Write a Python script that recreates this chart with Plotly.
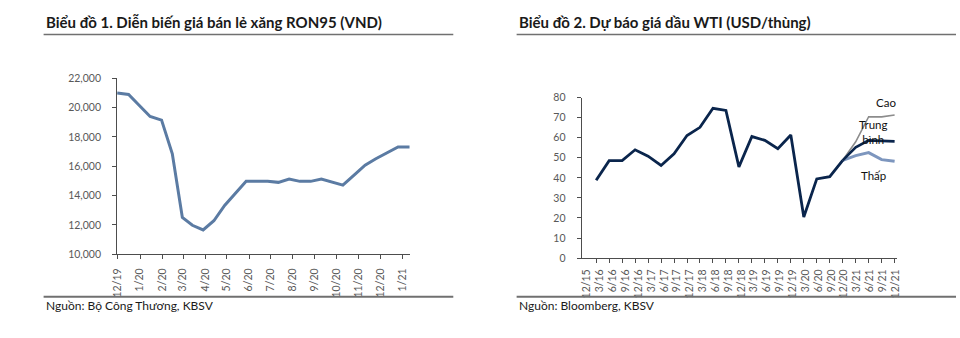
import plotly.graph_objects as go

# ---------------- Data: Chart 1 (RON95 retail price, VND) ----------------
ron95_dates = [
    "2019-11-30", "2019-12-16", "2019-12-31", "2020-01-15", "2020-01-31",
    "2020-02-15", "2020-02-29", "2020-03-14", "2020-03-29", "2020-04-13",
    "2020-04-28", "2020-05-13", "2020-05-28", "2020-06-12", "2020-06-27",
    "2020-07-12", "2020-07-27", "2020-08-11", "2020-08-26", "2020-09-10",
    "2020-09-25", "2020-10-10", "2020-10-26", "2020-11-10", "2020-11-25",
    "2020-12-11", "2020-12-26", "2021-01-11",
]
ron95_price = [
    21000, 20900, 20150, 19400, 19150,
    16850, 12500, 11970, 11650, 12280,
    13330, 14150, 14970, 14970, 14970,
    14900, 15130, 14970, 14970, 15130,
    14930, 14710, 15410, 16070, 16510,
    16950, 17320, 17320,
]
ron95_tick_dates = [
    "2019-12-01", "2020-01-01", "2020-02-01", "2020-03-01", "2020-04-01",
    "2020-05-01", "2020-06-01", "2020-07-01", "2020-08-01", "2020-09-01",
    "2020-10-01", "2020-11-01", "2020-12-01", "2021-01-01",
]
ron95_tick_labels = ["12/19", "1/20", "2/20", "3/20", "4/20", "5/20", "6/20",
                     "7/20", "8/20", "9/20", "10/20", "11/20", "12/20", "1/21"]

# ---------------- Data: Chart 2 (WTI forecast, USD/barrel) ----------------
wti_labels = ["12/15", "3/16", "6/16", "9/16", "12/16", "3/17", "6/17", "9/17",
              "12/17", "3/18", "6/18", "9/18", "12/18", "3/19", "6/19", "9/19",
              "12/19", "3/20", "6/20", "9/20", "12/20", "3/21", "6/21", "9/21",
              "12/21"]
wti_actual = [38.8, 48.6, 48.6, 54.0, 50.8, 46.2, 52.0, 61.1, 65.2, 74.7,
              73.6, 45.5, 60.6, 58.7, 54.5, 61.4, 20.5, 39.5, 40.6, 48.75]
wti_mid = [48.75, 55.2, 58.7, 58.4, 58.2]
wti_high = [48.75, 58.0, 70.5, 70.4, 71.3]
wti_low = [48.75, 51.1, 52.6, 49.1, 48.3]

# ---------------- Styling ----------------
FONT = "Lato"
NAVY = "#0a254c"
STEEL = "#5b7ba3"
LOWC = "#7d96be"
HIGHC = "#8c8c8c"
AXC = "#4d4d4d"
TICKFC = "#595959"

W, H = 960, 338

def px_x(p):
    return p / W

def px_y(p):
    return 1 - p / H

fig = go.Figure()

# Chart 1 line
fig.add_trace(go.Scatter(x=ron95_dates, y=ron95_price, mode="lines",
                         line=dict(color=STEEL, width=3),
                         xaxis="x", yaxis="y", showlegend=False,
                         hoverinfo="skip"))

# Chart 2 lines
x_act = list(range(len(wti_actual)))
x_fc = list(range(len(wti_actual) - 1, len(wti_actual) - 1 + len(wti_mid)))
fig.add_trace(go.Scatter(x=x_fc, y=wti_low, mode="lines",
                         line=dict(color=LOWC, width=3),
                         xaxis="x2", yaxis="y2", showlegend=False))
fig.add_trace(go.Scatter(x=x_fc, y=wti_high, mode="lines",
                         line=dict(color=HIGHC, width=1.6),
                         xaxis="x2", yaxis="y2", showlegend=False))
fig.add_trace(go.Scatter(x=x_fc, y=wti_mid, mode="lines",
                         line=dict(color=NAVY, width=2.6),
                         xaxis="x2", yaxis="y2", showlegend=False))
fig.add_trace(go.Scatter(x=x_act, y=wti_actual, mode="lines",
                         line=dict(color=NAVY, width=2.8),
                         xaxis="x2", yaxis="y2", showlegend=False))

# Label positions for chart 2 (labels sit between data ticks)
label_pos = [j * 0.99 - 0.7 for j in range(len(wti_labels))]

tickfont = dict(family=FONT, size=10.5, color=TICKFC)

fig.update_layout(
    width=W, height=H,
    margin=dict(l=0, r=0, t=0, b=0),
    paper_bgcolor="white", plot_bgcolor="white",
    font=dict(family=FONT),
    xaxis=dict(
        domain=[px_x(112.3), px_x(408.5)], anchor="y",
        type="date", range=["2019-11-30", "2021-01-12"],
        tickmode="array", tickvals=ron95_tick_dates, ticktext=ron95_tick_labels,
        tickangle=-90, ticks="outside", ticklen=4, tickcolor=AXC,
        showline=True, linecolor=AXC, linewidth=1, showgrid=False,
        zeroline=False, tickfont=tickfont, ticklabelstandoff=5,
    ),
    yaxis=dict(
        domain=[px_y(257.3), px_y(75)], anchor="x",
        range=[10000, 22000], tickvals=list(range(10000, 22001, 2000)),
        tickformat=",d", ticks="outside", ticklen=4, tickcolor=AXC,
        showline=True, linecolor=AXC, linewidth=1, showgrid=False,
        zeroline=False, tickfont=tickfont, ticklabelstandoff=9,
    ),
    xaxis2=dict(
        domain=[px_x(581.7), px_x(900.6)], anchor="y2",
        range=[-1.12, 23.2],
        tickmode="array", tickvals=label_pos, ticktext=wti_labels,
        tickangle=-90, ticks="", showline=True, linecolor=AXC, linewidth=1,
        showgrid=False, zeroline=False, tickfont=tickfont,
        ticklabelstandoff=6,
        minor=dict(tickmode="array", tickvals=x_act + x_fc[1:],
                   ticks="outside", ticklen=4, tickcolor=AXC, showgrid=False),
    ),
    yaxis2=dict(
        domain=[px_y(261.4), px_y(95)], anchor="x2",
        range=[0, 80], tickvals=list(range(0, 81, 10)),
        ticks="outside", ticklen=4, tickcolor=AXC,
        showline=True, linecolor=AXC, linewidth=1, showgrid=False,
        zeroline=False, tickfont=tickfont, ticklabelstandoff=9,
    ),
)

# Titles
fig.add_annotation(text="<b>Biểu đồ 1. Diễn biến giá bán lẻ xăng RON95 (VND)</b>",
                   xref="paper", yref="paper", x=px_x(38), y=px_y(17),
                   xanchor="left", yanchor="middle", showarrow=False,
                   font=dict(family=FONT, size=15, color="#1a1a1a"))
fig.add_annotation(text="<b>Biểu đồ 2. Dự báo giá dầu WTI (USD/thùng)</b>",
                   xref="paper", yref="paper", x=px_x(516), y=px_y(17),
                   xanchor="left", yanchor="middle", showarrow=False,
                   font=dict(family=FONT, size=15, color="#1a1a1a"))

# Footers
fig.add_annotation(text="Nguồn: Bộ Công Thương, KBSV",
                   xref="paper", yref="paper", x=px_x(38), y=px_y(311),
                   xanchor="left", yanchor="middle", showarrow=False,
                   font=dict(family=FONT, size=12, color="#1a1a1a"))
fig.add_annotation(text="Nguồn: Bloomberg, KBSV",
                   xref="paper", yref="paper", x=px_x(516), y=px_y(311),
                   xanchor="left", yanchor="middle", showarrow=False,
                   font=dict(family=FONT, size=12, color="#1a1a1a"))

# Series labels on chart 2
lab_font = dict(family=FONT, size=11.5, color="#111111")
fig.add_annotation(text="Cao", xref="x2", yref="y2", x=22.3, y=77.6,
                   showarrow=False, font=lab_font)
fig.add_annotation(text="Trung<br>bình", xref="x2", yref="y2", x=21.4, y=62.9,
                   showarrow=False, font=lab_font)
fig.add_annotation(text="Thấp", xref="x2", yref="y2", x=21.4, y=41.2,
                   showarrow=False, font=lab_font)

# Rules under titles and above footers
for x0, x1 in [(38, 452), (516, 960)]:
    fig.add_shape(type="line", xref="paper", yref="paper",
                  x0=px_x(x0), x1=px_x(x1), y0=px_y(29.5), y1=px_y(29.5),
                  line=dict(color="#707070", width=1.5))
    fig.add_shape(type="line", xref="paper", yref="paper",
                  x0=px_x(x0), x1=px_x(x1), y0=px_y(301.5), y1=px_y(301.5),
                  line=dict(color="#707070", width=2))

fig.write_html("out.html")
